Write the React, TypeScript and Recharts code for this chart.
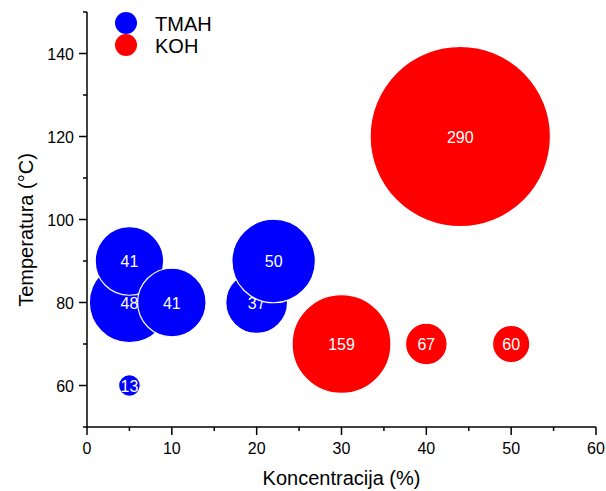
import React from "react";
import {
  ScatterChart,
  Scatter,
  XAxis,
  YAxis,
  ZAxis,
  Legend,
} from "recharts";

// TMAH bubbles (draw order matters: later ones overlap earlier ones)
const tmahConc = [5, 5, 10, 20, 22, 5];
const tmahTemp = [80, 90, 80, 80, 90, 60];
const tmahRate = [48, 41, 41, 37, 50, 13];

// KOH bubbles
const kohConc = [30, 40, 50, 44];
const kohTemp = [70, 70, 70, 120];
const kohRate = [159, 67, 60, 290];

const seriesNames = ["TMAH", "KOH"];

const xTicks = [0, 5, 10, 15, 20, 25, 30, 35, 40, 45, 50, 55, 60];
const yTicks = [50, 60, 70, 80, 90, 100, 110, 120, 130, 140, 150];

const tmahData = tmahConc.map((x, i) => ({ x, y: tmahTemp[i], z: tmahRate[i] }));
const kohData = kohConc.map((x, i) => ({ x, y: kohTemp[i], z: kohRate[i] }));

const FONT = "'Liberation Sans', Arial, sans-serif";

// ZAxis maps value -> radius linearly, shape uses size as radius
const Bubble = (props: any) => {
  const { cx, cy, fill, payload } = props;
  let r = props.size;
  if (r == null) r = Math.PI * Math.pow((props.width || 0) / 2, 2);
  return (
    <g>
      <circle cx={cx} cy={cy} r={r} fill={fill} stroke="#fff" strokeWidth={1.2} />
      <text
        x={cx}
        y={cy + 6}
        textAnchor="middle"
        fill="#fff"
        fontSize={16}
        fontFamily={FONT}
      >
        {payload.z}
      </text>
    </g>
  );
};

const XTick = ({ x, y, payload }: any) => {
  const major = payload.value % 10 === 0;
  return (
    <g>
      <line x1={x} x2={x} y1={y} y2={y + (major ? 8 : 4)} stroke="#000" strokeWidth={1.5} />
      {major && (
        <text x={x} y={y + 27} textAnchor="middle" fontSize={16} fontFamily={FONT} fill="#000">
          {payload.value}
        </text>
      )}
    </g>
  );
};

const YTick = ({ x, y, payload }: any) => {
  const v = payload.value;
  const major = v % 20 === 0;
  return (
    <g>
      <line x1={x} x2={x - (major ? 8 : 4)} y1={y} y2={y} stroke="#000" strokeWidth={1.5} />
      {major && (
        <text x={x - 13} y={y + 6} textAnchor="end" fontSize={16} fontFamily={FONT} fill="#000">
          {v}
        </text>
      )}
    </g>
  );
};

const LegendBox = ({ payload }: any) => {
  const items = [...(payload || [])].sort(
    (a: any, b: any) => seriesNames.indexOf(a.value) - seriesNames.indexOf(b.value)
  );
  return (
    <div style={{ position: "relative", width: 200, height: 60, fontFamily: FONT }}>
      {items.map((item: any, i: number) => (
        <div key={item.value} style={{ position: "absolute", left: 115, top: 11.5 + i * 22.7, height: 22 }}>
          <div
            style={{
              position: "absolute",
              left: 0,
              top: 0,
              width: 22,
              height: 22,
              borderRadius: "50%",
              background: item.color,
            }}
          />
          <div
            style={{
              position: "absolute",
              left: 40,
              top: 0,
              fontSize: 20,
              lineHeight: "24px",
              color: "#000",
              whiteSpace: "nowrap",
            }}
          >
            {item.value}
          </div>
        </div>
      ))}
    </div>
  );
};

export default function App() {
  return (
    <div style={{ position: "absolute", left: 0, top: 0, background: "#fff" }}>
      <ScatterChart
        width={606}
        height={491}
        margin={{ top: 12, right: 10, bottom: 0, left: 0 }}
      >
        <XAxis
          type="number"
          dataKey="x"
          domain={[0, 60]}
          ticks={xTicks}
          interval={0}
          tickSize={0}
          tickMargin={0}
          tickLine={false}
          tick={<XTick />}
          height={64}
          axisLine={{ stroke: "#000", strokeWidth: 1.5 }}
          label={{
            content: ({ viewBox }: any) => (
              <text
                x={viewBox.x + viewBox.width / 2}
                y={viewBox.y + 58}
                textAnchor="middle"
                fontSize={20}
                fontFamily={FONT}
                fill="#000"
              >
                Koncentracija (%)
              </text>
            ),
          }}
        />
        <YAxis
          type="number"
          dataKey="y"
          domain={[50, 150]}
          ticks={yTicks}
          interval={0}
          tickSize={0}
          tickMargin={0}
          tickLine={false}
          tick={<YTick />}
          width={87}
          axisLine={{ stroke: "#000", strokeWidth: 1.5 }}
          label={{
            content: () => {
              const tx = 33;
              const ty = 230;
              return (
                <text
                  x={tx}
                  y={ty}
                  transform={`rotate(-90 ${tx} ${ty})`}
                  textAnchor="middle"
                  fontSize={20}
                  fontFamily={FONT}
                  fill="#000"
                >
                  Temperatura (°C)
                </text>
              );
            },
          }}
        />
        <ZAxis zAxisId="tmah" type="number" dataKey="z" domain={[0, 100]} range={[0, 83.5]} />
        <ZAxis zAxisId="koh" type="number" dataKey="z" domain={[0, 300]} range={[0, 93.3]} />
        <Legend
          layout="vertical"
          verticalAlign="middle"
          align="center"
          wrapperStyle={{ position: "absolute", left: 0, top: 0, width: 200, height: 60 }}
          content={<LegendBox />}
        />
        <Scatter
          name="TMAH"
          data={tmahData}
          zAxisId="tmah"
          fill="#0000FF"
          shape={<Bubble />}
          isAnimationActive={false}
        />
        <Scatter
          name="KOH"
          data={kohData}
          zAxisId="koh"
          fill="#FF0000"
          shape={<Bubble />}
          isAnimationActive={false}
        />
      </ScatterChart>
    </div>
  );
}
